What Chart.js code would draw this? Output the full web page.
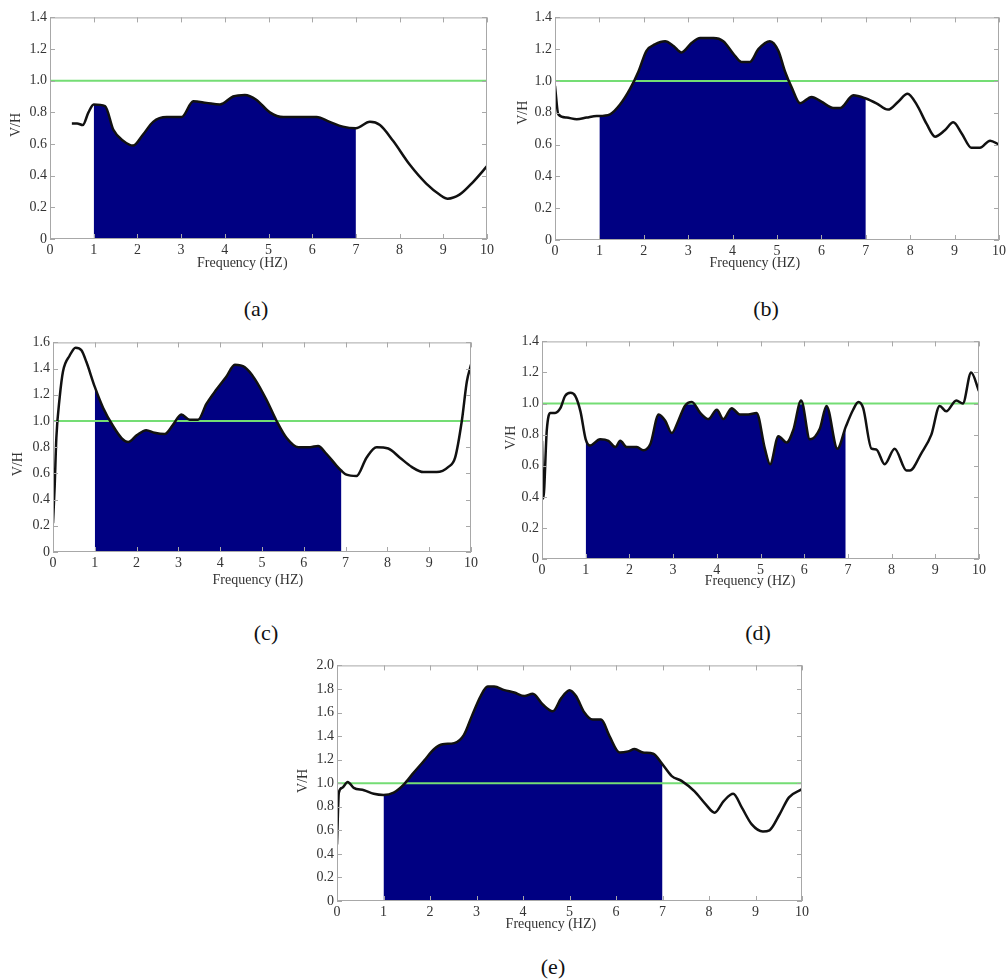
<!DOCTYPE html>
<html lang="en">
<head>
    <meta charset="UTF-8">
    <title>V/H spectra</title>
    <style>
        html, body { margin: 0; padding: 0; background: #fff; overflow: hidden; }
        #fig { position: relative; width: 1006px; height: 979px; }
        #fig canvas { position: absolute; }
        .tag { position: absolute; font: 22px "Liberation Serif", "Times New Roman", serif; color: #111; transform: translate(-50%, -50%); }
    </style>
</head>
<body>
    <div id="fig"></div>

    <script src="https://cdn.jsdelivr.net/npm/chart.js"></script>
    <script>
        // ---- data ----
        const xTicks = [0, 1, 2, 3, 4, 5, 6, 7, 8, 9, 10];
        const yTicks14 = [0, 0.2, 0.4, 0.6, 0.8, 1.0, 1.2, 1.4];
        const yTicks16 = [0, 0.2, 0.4, 0.6, 0.8, 1.0, 1.2, 1.4, 1.6];
        const yTicks20 = [0, 0.2, 0.4, 0.6, 0.8, 1.0, 1.2, 1.4, 1.6, 1.8, 2.0];
        const refLevel = 1.0;

        const freqA = [0.5, 0.62, 0.75, 0.88, 1.0, 1.26, 1.45, 1.68, 1.9, 2.13, 2.36, 2.67, 3.01, 3.28, 3.58, 3.89, 4.19, 4.46, 4.72, 5.03, 5.34, 5.72, 6.1, 6.4, 6.7, 7.0, 7.32, 7.55, 7.85, 8.23, 8.61, 8.92, 9.1, 9.37, 9.68, 10];
        const vhA = [0.73, 0.73, 0.72, 0.80, 0.85, 0.84, 0.69, 0.62, 0.59, 0.66, 0.74, 0.77, 0.77, 0.87, 0.86, 0.85, 0.90, 0.91, 0.88, 0.80, 0.77, 0.77, 0.77, 0.74, 0.71, 0.70, 0.74, 0.72, 0.62, 0.47, 0.35, 0.28, 0.255, 0.28, 0.36, 0.46];

        const freqB = [0, 0.075, 0.26, 0.49, 0.71, 0.94, 1.0, 1.24, 1.46, 1.69, 1.88, 2.06, 2.25, 2.48, 2.67, 2.85, 3.08, 3.27, 3.57, 3.79, 4.02, 4.2, 4.39, 4.58, 4.84, 5.03, 5.18, 5.33, 5.52, 5.78, 6.0, 6.27, 6.42, 6.72, 7.0, 7.24, 7.5, 7.73, 7.94, 8.15, 8.37, 8.56, 8.78, 8.97, 9.16, 9.38, 9.57, 9.8, 10];
        const vhB = [0.97, 0.79, 0.77, 0.76, 0.77, 0.78, 0.78, 0.79, 0.85, 0.95, 1.06, 1.19, 1.23, 1.25, 1.22, 1.18, 1.24, 1.27, 1.27, 1.25, 1.17, 1.12, 1.12, 1.20, 1.25, 1.19, 1.06, 0.96, 0.86, 0.90, 0.87, 0.83, 0.83, 0.91, 0.89, 0.86, 0.82, 0.87, 0.92, 0.85, 0.73, 0.65, 0.69, 0.74, 0.67, 0.58, 0.58, 0.625, 0.60];

        const freqC = [0, 0.04, 0.08, 0.16, 0.24, 0.4, 0.54, 0.68, 0.8, 1.0, 1.2, 1.44, 1.64, 1.8, 2.0, 2.23, 2.43, 2.67, 2.87, 3.07, 3.27, 3.47, 3.67, 3.91, 4.15, 4.35, 4.59, 4.83, 5.11, 5.35, 5.59, 5.87, 6.15, 6.34, 6.54, 6.78, 6.9, 7.02, 7.26, 7.5, 7.74, 8.02, 8.3, 8.58, 8.86, 9.18, 9.46, 9.62, 9.78, 9.9, 10];
        const vhC = [0.22, 0.5, 0.87, 1.18, 1.38, 1.5, 1.56, 1.54, 1.45, 1.26, 1.10, 0.96, 0.87, 0.84, 0.89, 0.93, 0.91, 0.90, 0.97, 1.05, 1.01, 1.01, 1.13, 1.24, 1.34, 1.43, 1.41, 1.32, 1.16, 1.00, 0.87, 0.80, 0.80, 0.81, 0.75, 0.66, 0.62, 0.59, 0.58, 0.72, 0.80, 0.79, 0.72, 0.65, 0.61, 0.61, 0.65, 0.72, 1.00, 1.30, 1.43];

        const freqD = [0, 0.03, 0.11, 0.19, 0.3, 0.42, 0.53, 0.65, 0.76, 0.88, 1.0, 1.1, 1.33, 1.52, 1.68, 1.79, 1.94, 2.17, 2.32, 2.48, 2.67, 2.82, 2.97, 3.12, 3.27, 3.43, 3.62, 3.81, 4.0, 4.15, 4.34, 4.53, 4.72, 4.91, 5.1, 5.22, 5.41, 5.6, 5.75, 5.93, 6.13, 6.36, 6.51, 6.76, 6.95, 7.12, 7.24, 7.35, 7.54, 7.65, 7.84, 8.07, 8.34, 8.42, 8.68, 8.91, 9.1, 9.25, 9.48, 9.63, 9.82, 10];
        const vhD = [0.76, 0.39, 0.83, 0.94, 0.94, 0.97, 1.05, 1.07, 1.05, 0.95, 0.77, 0.73, 0.77, 0.76, 0.72, 0.76, 0.72, 0.72, 0.70, 0.74, 0.93, 0.89, 0.81, 0.89, 0.985, 1.01, 0.94, 0.90, 0.96, 0.90, 0.97, 0.93, 0.93, 0.94, 0.71, 0.61, 0.79, 0.75, 0.83, 1.02, 0.77, 0.84, 0.985, 0.71, 0.85, 0.96, 1.01, 0.97, 0.71, 0.705, 0.61, 0.71, 0.57, 0.57, 0.68, 0.80, 0.985, 0.95, 1.02, 1.0, 1.20, 1.08];

        const freqE = [0, 0.04, 0.11, 0.23, 0.36, 0.58, 0.79, 1.0, 1.22, 1.44, 1.65, 1.87, 2.09, 2.27, 2.52, 2.73, 2.91, 3.09, 3.24, 3.38, 3.6, 3.81, 4.03, 4.21, 4.42, 4.64, 4.82, 5.0, 5.14, 5.32, 5.5, 5.68, 5.86, 6.08, 6.26, 6.4, 6.58, 6.8, 7.0, 7.2, 7.41, 7.69, 7.93, 8.12, 8.32, 8.52, 8.71, 8.92, 9.16, 9.3, 9.51, 9.72, 10];
        const vhE = [0.48, 0.92, 0.96, 1.01, 0.96, 0.94, 0.91, 0.90, 0.92, 0.99, 1.09, 1.19, 1.29, 1.33, 1.34, 1.41, 1.58, 1.74, 1.82, 1.82, 1.79, 1.77, 1.74, 1.76, 1.67, 1.61, 1.72, 1.79, 1.74, 1.60, 1.54, 1.54, 1.40, 1.26, 1.27, 1.29, 1.26, 1.25, 1.16, 1.06, 1.02, 0.93, 0.82, 0.75, 0.85, 0.91, 0.79, 0.65, 0.59, 0.60, 0.73, 0.88, 0.95];

        // ---- layout (page pixels of each plot box) ----
        const panels = [
            { tag: '(a)', freq: freqA, vh: vhA, yTicks: yTicks14, band: [1, 7],   box: [50, 16, 487, 239],  xTitleAt: 4.4,  xTitleDy: 24, yTitleAt: 0.72, yTitleDx: 34, tagPos: [256, 309] },
            { tag: '(b)', freq: freqB, vh: vhB, yTicks: yTicks14, band: [1, 7],   box: [555, 16, 999, 240], xTitleAt: 4.5,  xTitleDy: 23, yTitleAt: 0.8,  yTitleDx: 32, tagPos: [766, 309] },
            { tag: '(c)', freq: freqC, vh: vhC, yTicks: yTicks16, band: [1, 6.9], box: [53, 341, 471, 552], xTitleAt: 4.9,  xTitleDy: 28, yTitleAt: 0.67, yTitleDx: 35, tagPos: [266, 633] },
            { tag: '(d)', freq: freqD, vh: vhD, yTicks: yTicks14, band: [1, 6.95],box: [542, 340, 979, 559],xTitleAt: 4.76, xTitleDy: 22, yTitleAt: 0.78, yTitleDx: 31, tagPos: [758, 633] },
            { tag: '(e)', freq: freqE, vh: vhE, yTicks: yTicks20, band: [1, 7],   box: [337, 664, 802, 901],xTitleAt: 4.6,  xTitleDy: 23, yTitleAt: 1.02, yTitleDx: 34, tagPos: [553, 967] }
        ];

        const PAD_L = 50, PAD_T = 10, PAD_R = 12, PAD_B = 40;
        const SERIF = '"Liberation Serif", "Times New Roman", serif';

        Chart.defaults.font.family = SERIF;
        Chart.defaults.font.size = 14;
        Chart.defaults.color = '#333';

        // MATLAB-like box with inward ticks, plus axis titles
        const framePlugin = {
            id: 'frame',
            afterDatasetsDraw(chart, args, opts) {
                const { ctx, chartArea: a, scales: { x, y } } = chart;
                ctx.save();
                ctx.strokeStyle = '#a8a8a8';
                ctx.lineWidth = 1;
                ctx.strokeRect(a.left + 0.5, a.top + 0.5, a.right - a.left - 1, a.bottom - a.top - 1);
                ctx.beginPath();
                x.ticks.forEach(t => {
                    const px = Math.round(x.getPixelForValue(t.value)) + 0.5;
                    ctx.moveTo(px, a.bottom); ctx.lineTo(px, a.bottom - 5);
                    ctx.moveTo(px, a.top); ctx.lineTo(px, a.top + 5);
                });
                y.ticks.forEach(t => {
                    const py = Math.round(y.getPixelForValue(t.value)) + 0.5;
                    ctx.moveTo(a.left, py); ctx.lineTo(a.left + 5, py);
                    ctx.moveTo(a.right, py); ctx.lineTo(a.right - 5, py);
                });
                ctx.stroke();

                ctx.fillStyle = '#333';
                ctx.font = '14px ' + SERIF;
                ctx.textAlign = 'center';
                ctx.textBaseline = 'middle';
                ctx.fillText('Frequency (HZ)', x.getPixelForValue(opts.xTitleAt), a.bottom + opts.xTitleDy);
                ctx.translate(a.left - opts.yTitleDx, y.getPixelForValue(opts.yTitleAt));
                ctx.rotate(-Math.PI / 2);
                ctx.fillText('V/H', 0, 0);
                ctx.restore();
            }
        };

        const fig = document.getElementById('fig');

        panels.forEach(p => {
            const [l, t, r, b] = p.box;
            const canvas = document.createElement('canvas');
            const w = (r - l) + PAD_L + PAD_R;
            const h = (b - t) + PAD_T + PAD_B;
            canvas.width = w; canvas.height = h;
            canvas.style.left = (l - PAD_L) + 'px';
            canvas.style.top = (t - PAD_T) + 'px';
            canvas.style.width = w + 'px';
            canvas.style.height = h + 'px';
            fig.appendChild(canvas);

            const pts = p.freq.map((f, i) => ({ x: f, y: p.vh[i] }));
            const bandPts = pts.filter(pt => pt.x >= p.band[0] && pt.x <= p.band[1]);
            const yTop = p.yTicks[p.yTicks.length - 1];

            new Chart(canvas.getContext('2d'), {
                type: 'line',
                data: {
                    datasets: [
                        {   // V/H curve
                            data: pts,
                            borderColor: '#111',
                            borderWidth: 2.5,
                            pointRadius: 0,
                            fill: false,
                            cubicInterpolationMode: 'monotone'
                        },
                        {   // reference level V/H = 1
                            data: [{ x: 0, y: refLevel }, { x: 10, y: refLevel }],
                            borderColor: '#74dd74',
                            borderWidth: 2,
                            pointRadius: 0,
                            fill: false
                        },
                        {   // shaded 1-7 Hz band
                            data: bandPts,
                            borderWidth: 0,
                            borderColor: 'rgba(0,0,0,0)',
                            backgroundColor: '#000082',
                            pointRadius: 0,
                            fill: 'origin',
                            cubicInterpolationMode: 'monotone'
                        }
                    ]
                },
                options: {
                    responsive: false,
                    animation: false,
                    events: [],
                    layout: { padding: { left: 0, top: PAD_T, right: PAD_R, bottom: 0 } },
                    plugins: {
                        legend: { display: false },
                        tooltip: { enabled: false },
                        frame: { xTitleAt: p.xTitleAt, xTitleDy: p.xTitleDy, yTitleAt: p.yTitleAt, yTitleDx: p.yTitleDx }
                    },
                    scales: {
                        x: {
                            type: 'linear',
                            min: 0, max: 10,
                            grid: { display: false, drawTicks: false },
                            border: { display: false },
                            afterBuildTicks: s => { s.ticks = xTicks.map(v => ({ value: v })); },
                            afterFit: s => { s.height = PAD_B; },
                            ticks: { padding: 3, maxRotation: 0, autoSkip: false }
                        },
                        y: {
                            min: 0, max: yTop,
                            grid: { display: false, drawTicks: false },
                            border: { display: false },
                            afterBuildTicks: s => { s.ticks = p.yTicks.map(v => ({ value: v })); },
                            afterFit: s => { s.width = PAD_L; },
                            ticks: { padding: 3, autoSkip: false, callback: v => v === 0 ? '0' : v.toFixed(1) }
                        }
                    }
                },
                plugins: [framePlugin]
            });

            const tag = document.createElement('div');
            tag.className = 'tag';
            tag.textContent = p.tag;
            tag.style.left = p.tagPos[0] + 'px';
            tag.style.top = p.tagPos[1] + 'px';
            fig.appendChild(tag);
        });
    </script>
</body>
</html>
